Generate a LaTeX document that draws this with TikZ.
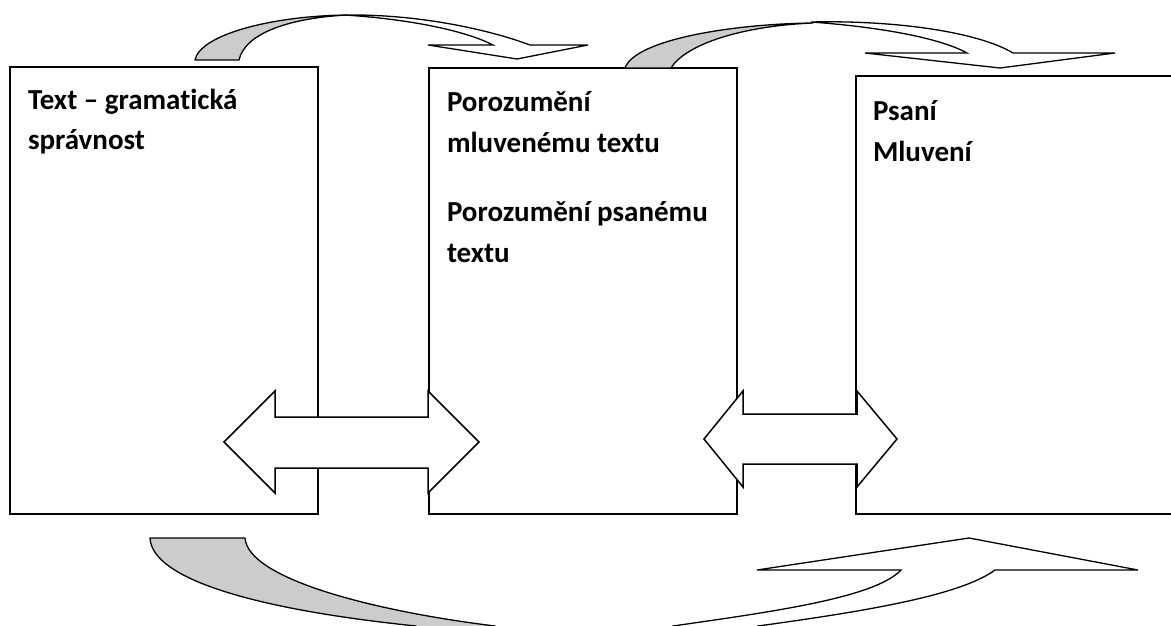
\documentclass[tikz,border=0pt]{standalone}
\usepackage{fontspec}
\setmainfont{Carlito}[Ligatures=NoCommon]
\begin{document}
\begin{tikzpicture}[x=1pt,y=-1pt,
  box/.style={draw=black,line width=1.5pt,inner sep=0pt,outer sep=0pt},
  lbl/.style={anchor=base west,inner sep=0pt,outer sep=0pt,font=\fontsize{29}{33}\selectfont\bfseries},
  blk/.style={draw=black,line width=1.5pt,fill=white,line join=miter},
  backface/.style={draw=black,line width=1.3pt,fill=black!20,line join=round},
  frontface/.style={draw=black,line width=1.3pt,fill=white,line join=miter}]
\useasboundingbox (0,0) rectangle (1171,626);
\clip (0,0) rectangle (1171,626);
% boxes
\node[box,minimum width=308pt,minimum height=447pt] (b1) at (164,290.5) {};
\node[box,minimum width=308pt,minimum height=446pt] (b2) at (583,291) {};
\node[box,minimum width=330pt,minimum height=438pt] (b3) at (1021,295) {};
% texts
\node[lbl] (t1a) at (28,110) {Text – gramatická};
\node[lbl] (t1b) at (28,149) {správnost};
\node[lbl] (t2a) at (447,112) {Porozumění};
\node[lbl] (t2b) at (447,153) {mluvenému textu};
\node[lbl] (t2c) at (447,221) {Porozumění psanému};
\node[lbl] (t2d) at (447,262) {textu};
\node[lbl] (t3a) at (873,121) {Psaní};
\node[lbl] (t3b) at (873,161) {Mluvení};
% double arrows
\draw[blk] (224,442) -- (275,391) -- (275,417) -- (428,417) -- (428,391) -- (479,442)
  -- (428,493) -- (428,468) -- (275,468) -- (275,493) -- cycle;
\draw[blk] (704,439) -- (743,391) -- (743,414) -- (857,414) -- (857,391) -- (897,439)
  -- (857,487) -- (857,464) -- (743,464) -- (743,487) -- cycle;
% top curved arrow 1
\draw[backface] (195,60) .. controls (200,35) and (270,16) .. (347,15)
  .. controls (290,18) and (245,33) .. (239,60) -- cycle;
\draw[frontface] (345,15) .. controls (420,14) and (490,30) .. (530,45) -- (588,45) -- (517,59)
  -- (428,45) -- (493,45) .. controls (470,33) and (420,20) .. (345,15) -- cycle;
% top curved arrow 2
\draw[backface] (625,68) .. controls (635,40) and (730,24) .. (813,23)
  .. controls (740,26) and (685,45) .. (671,68) -- cycle;
\draw[frontface] (811,22) .. controls (900,20) and (980,33) .. (1013,53) -- (1115,53) -- (1000,68)
  -- (865,53) -- (967,53) .. controls (940,38) and (880,27) .. (811,22) -- cycle;
% bottom curved arrow
\draw[backface] (150,538) -- (245,538) .. controls (248,580) and (380,612) .. (495,626)
  -- (500,645) -- (416,645) -- (416,626) .. controls (260,610) and (152,580) .. (150,538) -- cycle;
\draw[frontface] (673,645) -- (673,626) .. controls (770,612) and (875,598) .. (901,570)
  -- (757,570) -- (969,538) -- (1138,570) -- (995,570)
  .. controls (960,596) and (860,612) .. (758,626) -- (758,645) -- cycle;
\end{tikzpicture}
\end{document}
